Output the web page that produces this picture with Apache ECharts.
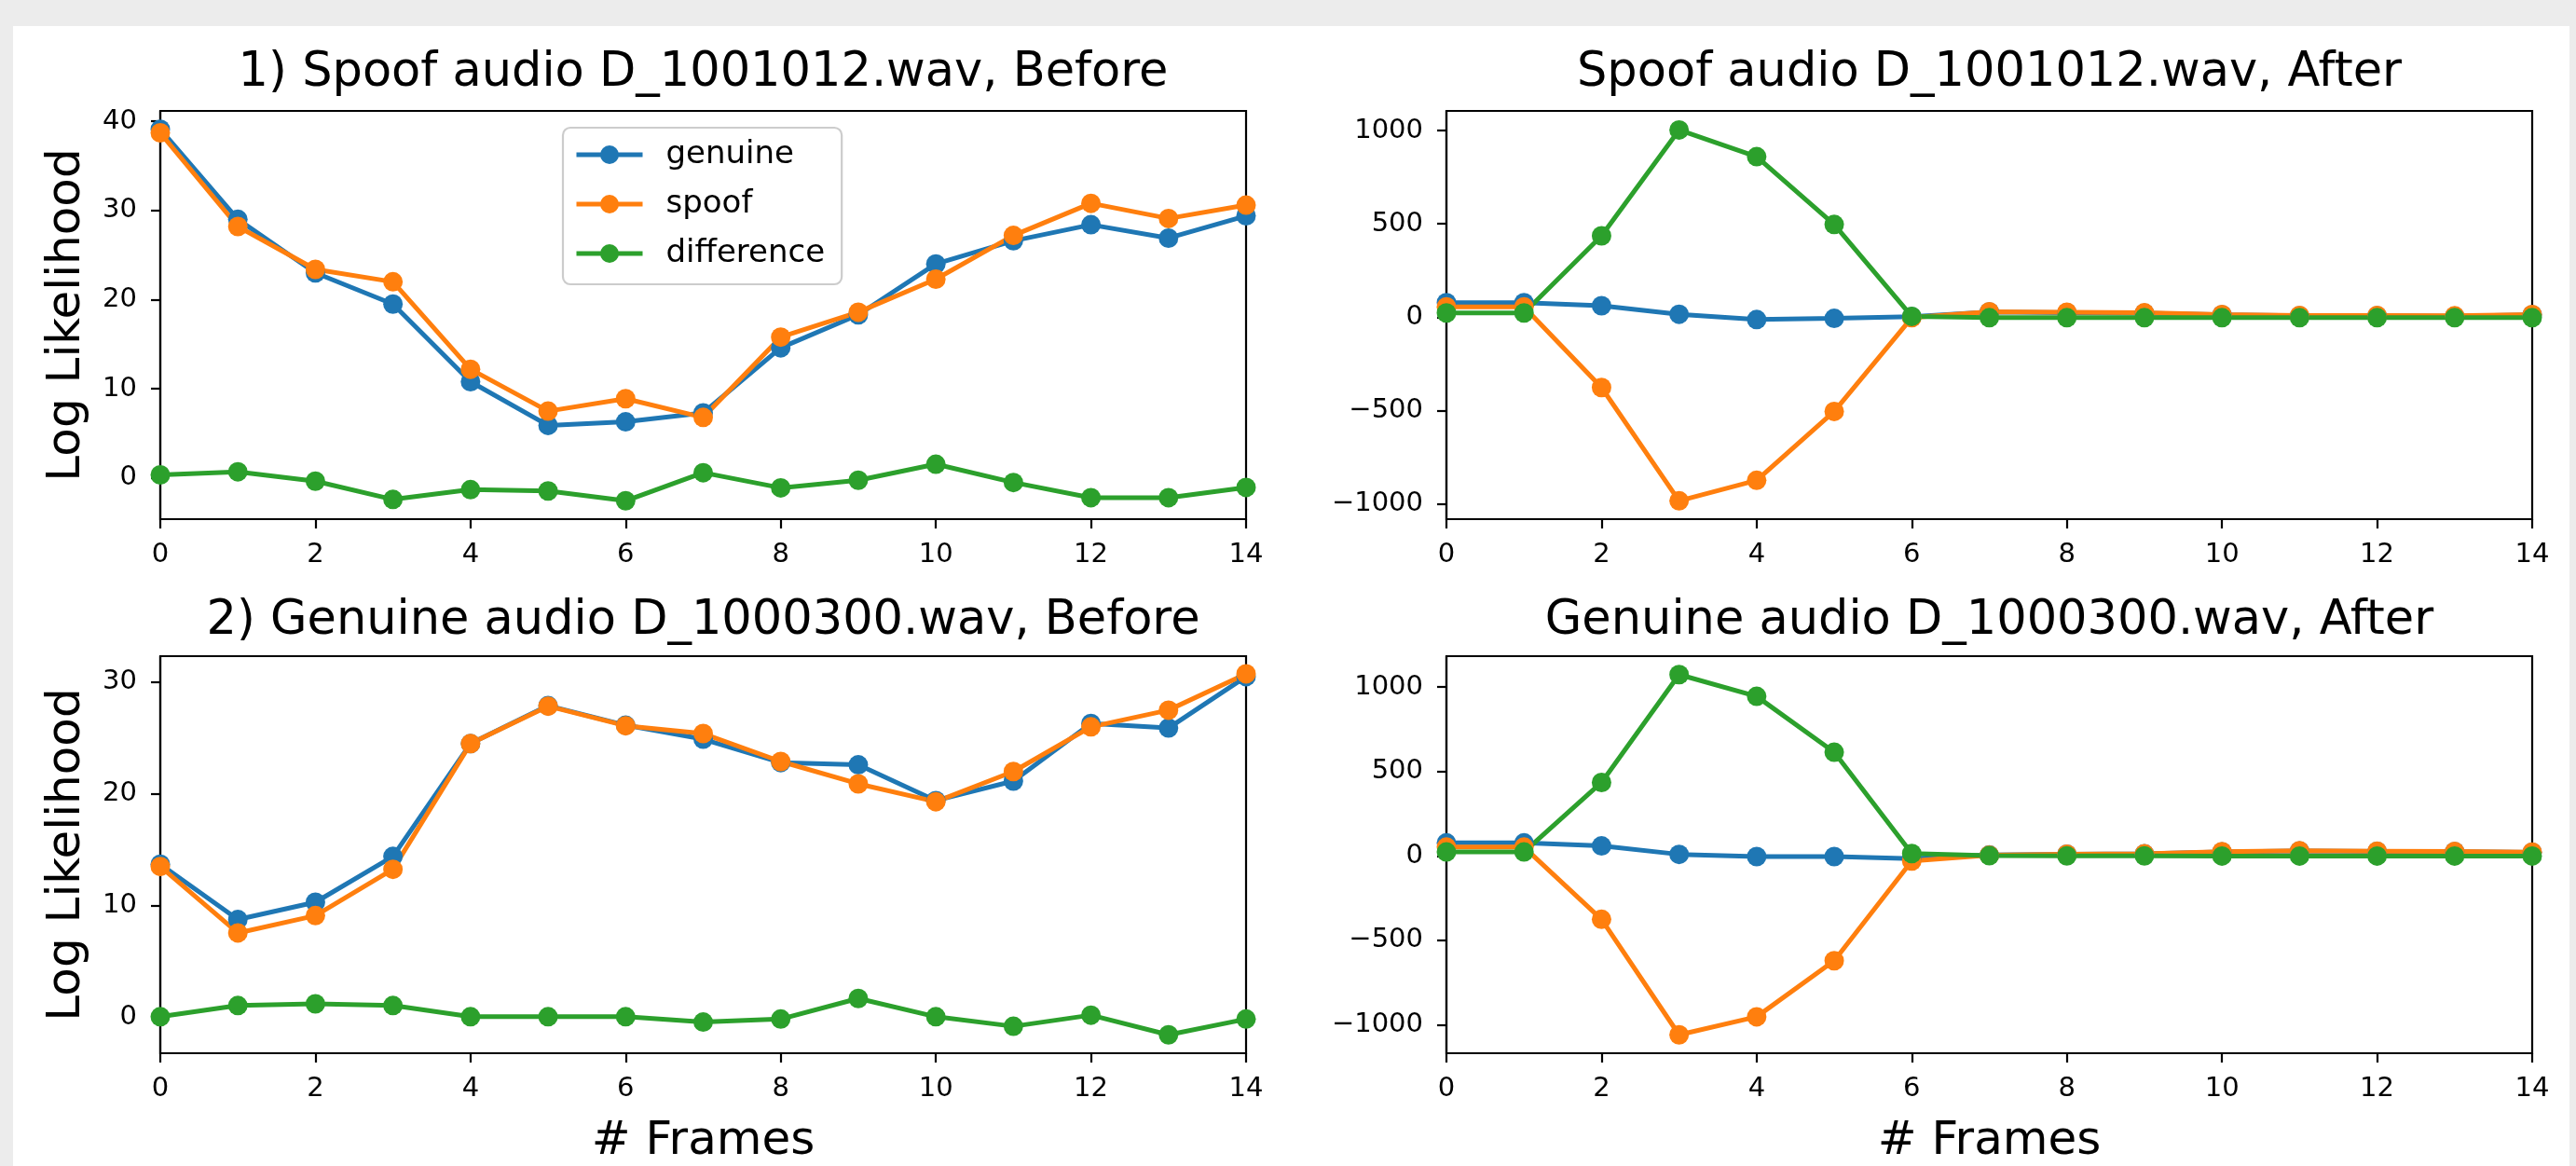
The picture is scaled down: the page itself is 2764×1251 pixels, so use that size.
<!DOCTYPE html>
<html>
<head>
<meta charset="utf-8">
<script src="https://cdn.jsdelivr.net/npm/echarts@6/dist/echarts.min.js"></script>
<style>
html,body{margin:0;padding:0;background:#ececec;overflow:hidden}
#bg{position:absolute;left:14px;top:28px;width:2743px;height:1223px;background:#ffffff}
#c{position:absolute;left:0;top:0;width:2764px;height:1251px}
</style>
</head>
<body>
<div id="bg"></div>
<div id="c"></div>
<script>
// ---------------- data ----------------
const frames = [0, 1, 2, 3, 4, 5, 6, 7, 8, 9, 10, 11, 12, 13, 14];
const seriesNames = ['genuine', 'spoof', 'difference'];

const title1 = '1) Spoof audio D_1001012.wav, Before';
const title2 = 'Spoof audio D_1001012.wav, After';
const title3 = '2) Genuine audio D_1000300.wav, Before';
const title4 = 'Genuine audio D_1000300.wav, After';

// panel 1: spoof audio, before
const genuine1 = [39.1, 29.0, 23.0, 19.5, 10.8, 5.9, 6.3, 7.3, 14.6, 18.3, 24.0, 26.6, 28.4, 26.9, 29.4];
const spoof1   = [38.7, 28.2, 23.4, 22.0, 12.2, 7.5, 8.9, 6.8, 15.8, 18.6, 22.3, 27.2, 30.8, 29.1, 30.6];
const diff1    = [0.35, 0.7, -0.35, -2.4, -1.3, -1.45, -2.55, 0.6, -1.1, -0.25, 1.55, -0.5, -2.2, -2.2, -1.05];

// panel 2: spoof audio, after
const genuine2 = [78, 78, 62, 16, -12, -6, 3, 28, 25, 22, 13, 8, 8, 6, 13];
const spoof2   = [56, 56, -376, -983, -873, -504, -2, 30, 27, 24, 15, 10, 10, 8, 15];
const diff2    = [23, 23, 436, 1003, 860, 497, 5, -2, -2, -2, -2, -2, -2, -2, -2];

// panel 3: genuine audio, before
const genuine3 = [13.7, 8.75, 10.3, 14.4, 24.5, 27.9, 26.15, 24.9, 22.8, 22.6, 19.4, 21.15, 26.3, 25.9, 30.5];
const spoof3   = [13.5, 7.55, 9.1, 13.25, 24.5, 27.85, 26.1, 25.4, 22.9, 20.9, 19.3, 22.0, 26.0, 27.5, 30.75];
const diff3    = [0.05, 1.05, 1.2, 1.05, 0.05, 0.05, 0.05, -0.43, -0.16, 1.68, 0.05, -0.81, 0.19, -1.57, -0.16];

// panel 4: genuine audio, after
const genuine4 = [77, 77, 59, 9, -4, -4, -16, 5, 10, 12, 24, 29, 27, 25, 21];
const spoof4   = [52, 52, -376, -1060, -953, -621, -30, 4, 10, 12, 25, 30, 28, 26, 22];
const diff4    = [23, 23, 435, 1074, 945, 614, 14, 1, 0, 0, -1, -1, -1, -1, -1];

// tick labels
const xTickInterval = 2;
const yTicks1 = [0, 10, 20, 30, 40];
const yTicks2 = [-1000, -500, 0, 500, 1000];
const yTicks3 = [0, 10, 20, 30];
const yTicks4 = [-1000, -500, 0, 500, 1000];

const yLabel = 'Log Likelihood';
const xLabel = '# Frames';

// ---------------- layout / style ----------------
const FONT = '"DejaVu Sans", "Liberation Sans", sans-serif';
const colors = ['#1f77b4', '#ff7f0e', '#2ca02c'];
const PW = 1165, PH = 438;
const panels = [
  {vals: [genuine1, spoof1, diff1], title: title1, ymin: -4.61, ymax: 41.16, yticks: yTicks1, left: 172, top: 119, ylab: true, xlab: false, tOff: 66},
  {vals: [genuine2, spoof2, diff2], title: title2, ymin: -1081, ymax: 1105, yticks: yTicks2, left: 1552, top: 119, ylab: false, xlab: false, tOff: 66},
  {vals: [genuine3, spoof3, diff3], title: title3, ymin: -3.22, ymax: 32.33, yticks: yTicks3, left: 172, top: 704, ylab: true, xlab: true, tOff: 63},
  {vals: [genuine4, spoof4, diff4], title: title4, ymin: -1169, ymax: 1183, yticks: yTicks4, left: 1552, top: 704, ylab: false, xlab: true, tOff: 63}
];

const TITLE_SIZE = 51;
const mctx = document.createElement('canvas').getContext('2d');
mctx.font = TITLE_SIZE + 'px "DejaVu Sans"';

const lineStyleAxis = {color: '#000', width: 2.2};
const minus = v => String(v).replace('-', '\u2212');

const grids = [], xAxes = [], yAxes = [], series = [], titles = [];
panels.forEach((p, i) => {
  grids.push({left: p.left, top: p.top, width: PW, height: PH, show: true,
              borderColor: '#000', borderWidth: 2.2, backgroundColor: '#fff', containLabel: false});
  xAxes.push({
    gridIndex: i, type: 'value', min: 0, max: 14, interval: xTickInterval,
    splitLine: {show: false},
    axisLine: {show: true, onZero: false, lineStyle: lineStyleAxis},
    axisTick: {show: true, length: 10, lineStyle: lineStyleAxis},
    axisLabel: {show: true, margin: 24, fontSize: 29, color: '#000', fontFamily: FONT,
                showMinLabel: true, showMaxLabel: true},
    name: p.xlab ? xLabel : '', nameLocation: 'middle', nameGap: 70,
    nameTextStyle: {fontSize: 50, color: '#000', fontFamily: FONT}
  });
  yAxes.push({
    gridIndex: i, type: 'value', min: p.ymin, max: p.ymax,
    splitLine: {show: false},
    axisLine: {show: true, onZero: false, lineStyle: lineStyleAxis},
    axisTick: {show: true, length: 10, lineStyle: lineStyleAxis, customValues: p.yticks},
    axisLabel: {show: true, margin: 25, fontSize: 29, color: '#000', fontFamily: FONT,
                customValues: p.yticks, formatter: minus},
    name: p.ylab ? yLabel : '', nameLocation: 'middle', nameGap: 75,
    nameTextStyle: {fontSize: 50, color: '#000', fontFamily: FONT}
  });
  const w = mctx.measureText(p.title).width;
  const cx = p.left + PW / 2;
  titles.push({
    text: p.title, left: cx - w / 2, top: p.top - p.tOff, textAlign: 'left', padding: 0,
    textStyle: {fontSize: TITLE_SIZE, fontWeight: 'normal', color: '#000', fontFamily: FONT}
  });
  p.vals.forEach((arr, k) => {
    series.push({
      type: 'line', name: seriesNames[k], xAxisIndex: i, yAxisIndex: i,
      data: frames.map((f, j) => [f, arr[j]]),
      symbol: 'circle', symbolSize: 21, showSymbol: true, showAllSymbol: true,
      lineStyle: {width: 5, color: colors[k]},
      itemStyle: {color: colors[k]},
      emphasis: {disabled: true},
      animation: false
    });
  });
});

const chart = echarts.init(document.getElementById('c'), null, {renderer: 'canvas'});
chart.setOption({
  animation: false,
  backgroundColor: 'transparent',
  color: colors,
  title: titles,
  legend: {
    data: seriesNames, orient: 'vertical', left: 604, top: 137,
    itemWidth: 71, itemHeight: 25, itemGap: 19,
    padding: [12, 18, 16, 12],
    backgroundColor: 'rgba(255,255,255,0.8)', borderColor: '#cccccc', borderWidth: 2.2, borderRadius: 8,
    lineStyle: {width: 5},
    textStyle: {fontSize: 34, color: '#000', fontFamily: FONT, padding: [0, 0, 0, 20]},
    selectedMode: false
  },
  grid: grids,
  xAxis: xAxes,
  yAxis: yAxes,
  series: series
});
</script>
</body>
</html>
